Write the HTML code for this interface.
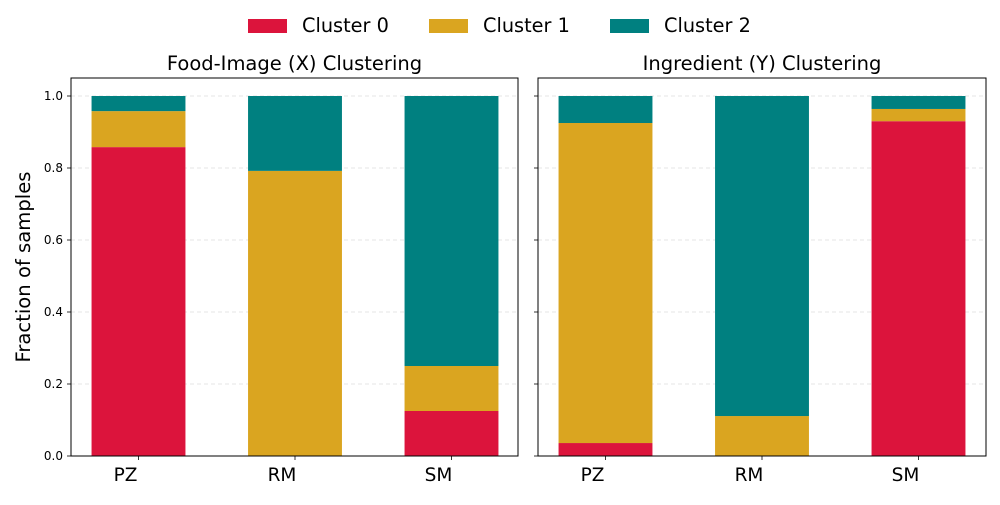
<!DOCTYPE html>
<html><head><meta charset="utf-8"><style>
body{margin:0;background:#fff;font-family:"Liberation Sans","DejaVu Sans",sans-serif}
</style></head><body>
<svg id="chart" width="1000" height="500" xmlns="http://www.w3.org/2000/svg" font-family="DejaVu Sans, Liberation Sans, sans-serif"></svg>
<script>
const categories = ["PZ","RM","SM"];
const leftCluster0 = [0.858,0.0,0.125];
const leftCluster1 = [0.100,0.792,0.125];
const leftCluster2 = [0.042,0.208,0.75];
const rightCluster0 = [0.036,0.0,0.93];
const rightCluster1 = [0.889,0.111,0.034];
const rightCluster2 = [0.075,0.889,0.036];
const yTicks = [0,0.2,0.4,0.6,0.8,1.0];
const yTickLabels = ["0.0","0.2","0.4","0.6","0.8","1.0"];
const seriesNames = ["Cluster 0","Cluster 1","Cluster 2"];
const colors = ["#dc143c","#daa520","#008080"];
const svg = document.getElementById('chart');
const NS = "http://www.w3.org/2000/svg";
function mk(tag, attrs, parent){const e=document.createElementNS(NS,tag);for(const k in attrs)e.setAttribute(k,attrs[k]);(parent||svg).appendChild(e);return e;}
const plotTop=78,plotBottom=456;
function yScale(v){return 456-v*360;}
function drawPanel(x0,x1,title,series,showLabels,name){
  const g=mk('g',{});
  
  
  const w=x1-x0, unit=156.5;
  const xScale=i=>x0+67.5+i*unit;
  yTicks.forEach((t,i)=>{
    const y=yScale(t);
    const gl=mk('line',{x1:x0,x2:x1,y1:y,y2:y,stroke:'#ddd','stroke-dasharray':'4,3','stroke-width':0.8},g);
    
    
    mk('line',{x1:x0-4,x2:x0,y1:y,y2:y,stroke:'#000','stroke-width':0.8},g);
    if(showLabels){
      const tx=mk('text',{x:x0-8,y:y+4,'text-anchor':'end','font-size':12},g);
      tx.textContent=yTickLabels[i];
      
      
    }
  });
  categories.forEach((c,i)=>{
    let cum=0;
    series.forEach((s,k)=>{
      const v=s[i];
      const r=mk('rect',{x:xScale(i)-0.3*unit,width:0.6*unit,y:yScale(cum+v),height:v*360,fill:colors[k]},g);
      
      
      cum+=v;
    });
    mk('line',{x1:xScale(i),x2:xScale(i),y1:plotBottom,y2:plotBottom+4,stroke:'#000','stroke-width':0.8},g);
    const tx=mk('text',{x:xScale(i)-13,y:481,'text-anchor':'middle','font-size':18.5},g);
    tx.textContent=c;
    
    
  });
  mk('rect',{x:x0,y:plotTop,width:w,height:plotBottom-plotTop,fill:'none',stroke:'#000','stroke-width':1},g);
  const t=mk('text',{x:(x0+x1)/2,y:70,'text-anchor':'middle','font-size':19.5},g);
  t.textContent=title;
  
  
}
drawPanel(71,518,"Food-Image (X) Clustering",[leftCluster0,leftCluster1,leftCluster2],true,'left-panel');
drawPanel(538,986,"Ingredient (Y) Clustering",[rightCluster0,rightCluster1,rightCluster2],false,'right-panel');
const yl=mk('text',{x:0,y:0,'text-anchor':'middle','font-size':19.6,transform:'translate(30,267) rotate(-90)'});
yl.textContent="Fraction of samples";


const lx=[248,429,610];
seriesNames.forEach((n,k)=>{
  const r=mk('rect',{x:lx[k],y:19,width:39,height:14,fill:colors[k]});
  
  
  const t=mk('text',{x:lx[k]+54,y:32,'font-size':19.3});
  t.textContent=n;
  
  
});
</script>
</body></html>
